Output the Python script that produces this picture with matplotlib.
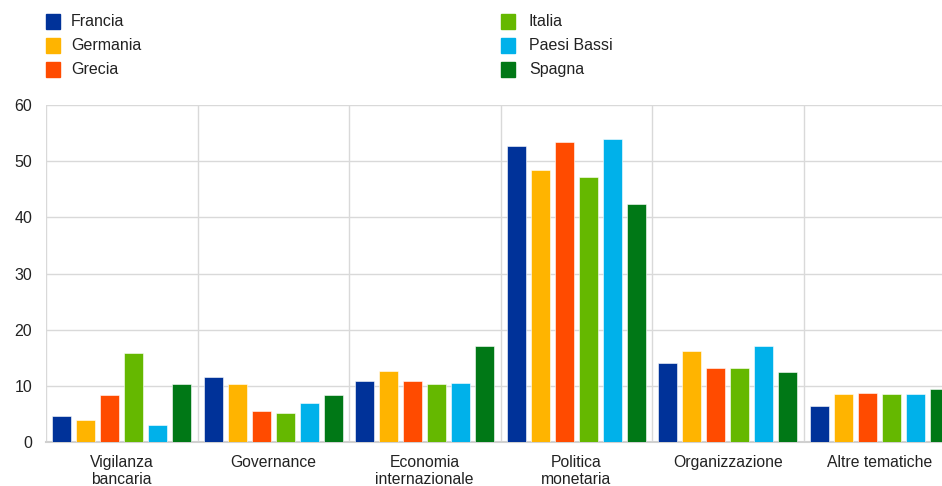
import numpy as np
import matplotlib.pyplot as plt
from matplotlib.patches import Rectangle

plt.rcParams['font.family'] = ['Liberation Sans', 'DejaVu Sans']

categories = ['Vigilanza\nbancaria', 'Governance', 'Economia\ninternazionale',
              'Politica\nmonetaria', 'Organizzazione', 'Altre tematiche']
series = ['Francia', 'Germania', 'Grecia', 'Italia', 'Paesi Bassi', 'Spagna']
colors = ['#003299', '#FFB400', '#FF4B00', '#65B800', '#00B1EA', '#007816']

francia = [4.6, 11.5, 10.8, 52.7, 14.0, 6.4]
germania = [3.9, 10.3, 12.7, 48.4, 16.2, 8.6]
grecia = [8.3, 5.6, 10.8, 53.5, 13.1, 8.8]
italia = [15.8, 5.2, 10.3, 47.1, 13.1, 8.5]
paesi_bassi = [3.0, 7.0, 10.5, 54.0, 17.1, 8.5]
spagna = [10.4, 8.3, 17.1, 42.3, 12.4, 9.5]
values = [francia, germania, grecia, italia, paesi_bassi, spagna]

W, H = 942, 486
fig = plt.figure(figsize=(W / 100, H / 100), dpi=100)
ax = fig.add_axes([46 / W, 44 / H, 909 / W, 337 / H])

x = np.arange(len(categories))
step = 0.158
bw = 0.125
for i, (vals, c) in enumerate(zip(values, colors)):
    ax.bar(x + (i - 2.5) * step, vals, width=bw, color=c, zorder=3,
           edgecolor='white', linewidth=0.4)

ax.set_xlim(-0.5, len(categories) - 0.5)
ax.set_ylim(0, 60)
ax.set_yticks(range(0, 61, 10))
ax.set_xticks(x)
ax.set_xticklabels(categories, fontsize=11.3)
for t in ax.get_xticklabels():
    t.set_linespacing(1.24)
ax.tick_params(axis='both', length=0, colors='#222222')
ax.tick_params(axis='y', labelsize=11.5, pad=10)
ax.tick_params(axis='x', pad=9)

ax.grid(axis='y', color='#d9d9d9', linewidth=1, zorder=0)
for b in np.arange(-0.5, len(categories), 1.0):
    ax.axvline(b, color='#d9d9d9', linewidth=1, zorder=0)
for s in ['top', 'right', 'left']:
    ax.spines[s].set_visible(False)
ax.spines['bottom'].set_color('#d0d0d0')
ax.spines['bottom'].set_linewidth(1.5)

# legend
rows = [21.5, 45.5, 69.5]
cols = [(46, 71), (501, 529)]
for k, (name, c) in enumerate(zip(series, colors)):
    col = cols[k // 3]
    yy = rows[k % 3]
    fig.patches.append(Rectangle((col[0] / W, 1 - (yy + 7.5) / H), 14 / W, 15 / H,
                                 transform=fig.transFigure, color=c))
    fig.text(col[1] / W, 1 - yy / H, name, fontsize=11.5, va='center',
             ha='left', color='#222222')

fig.savefig('out.png', dpi=100)
